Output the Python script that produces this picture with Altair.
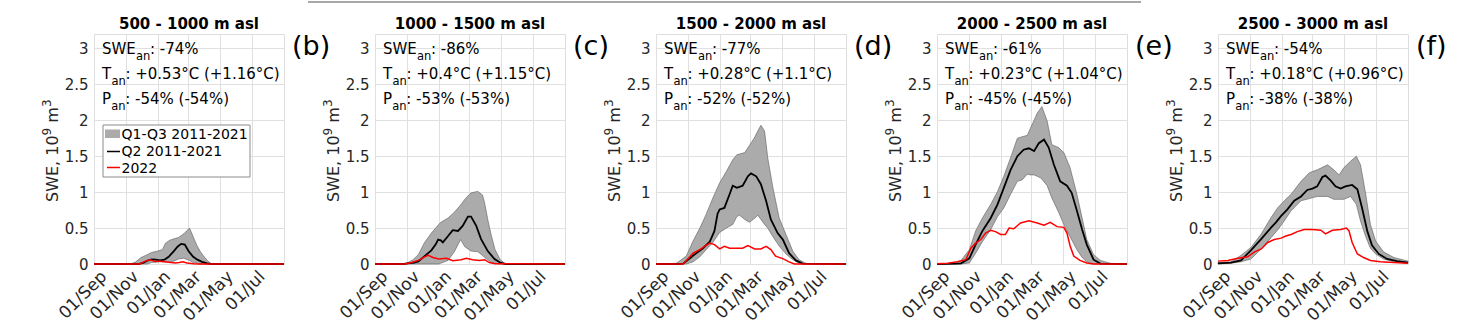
import altair as alt
import pandas as pd

# ---------------- text content ----------------
TITLES = ["500 - 1000 m asl", "1000 - 1500 m asl", "1500 - 2000 m asl",
          "2000 - 2500 m asl", "2500 - 3000 m asl"]
LETTERS = ["(b)", "(c)", "(d)", "(e)", "(f)"]
SWE_AN = ["-74%", "-86%", "-77%", "-61%", "-54%"]
T_AN = ["+0.53°C (+1.16°C)", "+0.4°C (+1.15°C)", "+0.28°C (+1.1°C)",
        "+0.23°C (+1.04°C)", "+0.18°C (+0.96°C)"]
P_AN = ["-54% (-54%)", "-53% (-53%)", "-52% (-52%)", "-45% (-45%)", "-38% (-38%)"]
TICK_DAYS = [0, 61, 122, 181, 242, 303]          # days since 01 Sep
TICK_LABELS = ["01/Sep", "01/Nov", "01/Jan", "01/Mar", "01/May", "01/Jul"]
Y_TICKS = [0, 0.5, 1, 1.5, 2, 2.5, 3]
LEGEND_LABELS = ["Q1-Q3 2011-2021", "Q2 2011-2021", "2022"]
Y_TITLE_PARTS = ["SWE, 10", "9", "m", "3"]      # normal, superscript, normal, superscript

# ---------------- data (SWE, 10^9 m^3; x = days since 01 Sep) ----------------
# Panel 1: 500-1000 m
P1_BAND_DAY = [0, 70, 80, 90, 102, 110, 122, 131, 137, 145, 153, 162, 172, 183, 190, 197, 204, 210, 217, 223, 230, 364]
P1_Q3 = [0, 0, 0.03, 0.09, 0.13, 0.16, 0.18, 0.2, 0.29, 0.33, 0.35, 0.37, 0.42, 0.5, 0.38, 0.26, 0.17, 0.11, 0.05, 0.01, 0, 0]
P1_Q1 = [0, 0, 0, 0, 0, 0.02, 0.03, 0.03, 0.03, 0.03, 0.04, 0.07, 0.08, 0.05, 0.02, 0.01, 0, 0, 0, 0, 0, 0]
P1_Q2_DAY = [0, 85, 95, 102, 110, 118, 127, 135, 143, 153, 160, 167, 174, 181, 190, 198, 207, 217, 225, 364]
P1_Q2 = [0, 0, 0.02, 0.045, 0.065, 0.06, 0.05, 0.06, 0.1, 0.18, 0.24, 0.28, 0.27, 0.18, 0.1, 0.06, 0.03, 0.01, 0, 0]
P1_Y22_DAY = [0, 88, 95, 102, 108, 118, 125, 131, 143, 156, 163, 170, 178, 191, 200, 364]
P1_Y22 = [0, 0, 0.03, 0.05, 0.06, 0.03, 0.04, 0.035, 0.025, 0.015, 0.02, 0.03, 0.015, 0.005, 0, 0]

# Panel 2: 1000-1500 m
P2_BAND_DAY = [0, 55, 63, 73, 83, 95, 108, 122, 126, 140, 152, 164, 172, 184, 197, 206, 210, 216, 222, 230, 240, 250, 364]
P2_Q3 = [0, 0, 0.02, 0.06, 0.13, 0.3, 0.43, 0.55, 0.58, 0.64, 0.72, 0.82, 0.9, 0.99, 1.01, 0.96, 0.85, 0.62, 0.42, 0.2, 0.06, 0, 0]
P2_Q1 = [0, 0, 0, 0, 0, 0, 0, 0, 0.01, 0.05, 0.17, 0.34, 0.24, 0.18, 0.17, 0.12, 0.09, 0.06, 0.03, 0.01, 0, 0, 0]
P2_Q2_DAY = [0, 55, 63, 75, 83, 95, 108, 116, 121, 126, 130, 140, 149, 159, 168, 178, 184, 194, 203, 216, 229, 241, 250, 364]
P2_Q2 = [0, 0, 0.01, 0.02, 0.035, 0.11, 0.19, 0.27, 0.34, 0.33, 0.3, 0.39, 0.47, 0.46, 0.53, 0.66, 0.66, 0.53, 0.35, 0.18, 0.07, 0.015, 0, 0]
P2_Y22_DAY = [0, 57, 70, 83, 95, 102, 111, 122, 137, 149, 165, 175, 187, 200, 210, 219, 230, 364]
P2_Y22 = [0, 0, 0.02, 0.05, 0.1, 0.12, 0.09, 0.07, 0.08, 0.045, 0.06, 0.08, 0.06, 0.05, 0.06, 0.02, 0.005, 0]

# Panel 3: 1500-2000 m
P3_BAND_DAY = [0, 39, 58, 71, 84, 96, 109, 122, 135, 147, 155, 160, 170, 179, 188, 195, 201, 208, 214, 224, 236, 249, 262, 274, 287, 300, 364]
P3_Q3 = [0, 0.01, 0.11, 0.32, 0.5, 0.69, 0.92, 1.13, 1.29, 1.45, 1.52, 1.53, 1.55, 1.65, 1.75, 1.85, 1.93, 1.85, 1.48, 1.06, 0.64, 0.41, 0.18, 0.06, 0.01, 0, 0]
P3_Q1 = [0, 0, 0, 0.03, 0.1, 0.2, 0.3, 0.44, 0.5, 0.55, 0.66, 0.68, 0.62, 0.58, 0.63, 0.68, 0.62, 0.55, 0.5, 0.38, 0.25, 0.14, 0.06, 0.01, 0, 0, 0]
P3_Q2_DAY = [0, 45, 52, 65, 77, 90, 103, 112, 118, 122, 131, 141, 147, 155, 166, 176, 182, 192, 201, 211, 220, 233, 243, 255, 268, 281, 364]
P3_Q2 = [0, 0, 0.005, 0.08, 0.15, 0.22, 0.31, 0.46, 0.7, 0.76, 0.78, 0.97, 1.09, 1.06, 1.09, 1.22, 1.26, 1.22, 1.11, 0.875, 0.62, 0.43, 0.34, 0.15, 0.05, 0.005, 0]
P3_Y22_DAY = [0, 52, 62, 71, 84, 93, 103, 112, 122, 131, 141, 154, 166, 176, 189, 201, 211, 220, 229, 243, 255, 265, 364]
P3_Y22 = [0, 0, 0.08, 0.15, 0.2, 0.245, 0.29, 0.27, 0.21, 0.245, 0.22, 0.22, 0.22, 0.255, 0.21, 0.21, 0.245, 0.2, 0.11, 0.075, 0.03, 0, 0]

# Panel 4: 2000-2500 m
P4_BAND_DAY = [0, 33, 46, 62, 74, 87, 103, 116, 128, 141, 154, 163, 173, 179, 186, 192, 198, 201, 211, 220, 233, 243, 255, 268, 278, 287, 300, 313, 332, 364]
P4_Q3 = [0, 0.01, 0.05, 0.2, 0.46, 0.64, 0.83, 1.01, 1.22, 1.48, 1.75, 1.77, 1.79, 1.89, 2.0, 2.1, 2.16, 2.19, 1.99, 1.66, 1.62, 1.55, 1.34, 0.97, 0.64, 0.34, 0.13, 0.05, 0.01, 0]
P4_Q1 = [0, 0, 0, 0.015, 0.15, 0.31, 0.48, 0.66, 0.78, 0.97, 1.15, 1.17, 1.25, 1.24, 1.24, 1.22, 1.2, 1.18, 1.09, 0.92, 0.72, 0.55, 0.38, 0.2, 0.09, 0.03, 0, 0, 0, 0]
P4_Q2_DAY = [0, 40, 46, 62, 74, 87, 103, 116, 128, 141, 154, 166, 176, 186, 195, 205, 214, 224, 236, 249, 258, 268, 278, 287, 300, 313, 364]
P4_Q2 = [0, 0.005, 0.01, 0.08, 0.27, 0.46, 0.64, 0.83, 1.06, 1.31, 1.5, 1.59, 1.61, 1.57, 1.68, 1.73, 1.62, 1.38, 1.15, 1.09, 0.99, 0.74, 0.48, 0.27, 0.06, 0.005, 0]
P4_Y22_DAY = [0, 20, 39, 55, 65, 74, 84, 93, 103, 112, 122, 131, 138, 147, 160, 176, 192, 205, 217, 230, 243, 249, 255, 262, 274, 287, 300, 364]
P4_Y22 = [0.005, 0.01, 0.03, 0.06, 0.22, 0.29, 0.34, 0.43, 0.47, 0.45, 0.41, 0.41, 0.5, 0.49, 0.57, 0.6, 0.57, 0.54, 0.58, 0.52, 0.51, 0.43, 0.25, 0.11, 0.05, 0.015, 0, 0]

# Panel 5: 2500-3000 m
P5_BAND_DAY = [0, 25, 44, 63, 83, 102, 114, 127, 140, 159, 175, 190, 210, 222, 232, 241, 254, 265, 273, 283, 292, 302, 317, 337, 364]
P5_Q3 = [0.02, 0.03, 0.12, 0.23, 0.42, 0.65, 0.78, 0.88, 0.97, 1.15, 1.27, 1.31, 1.38, 1.31, 1.24, 1.34, 1.43, 1.5, 1.38, 0.97, 0.55, 0.32, 0.17, 0.09, 0.04]
P5_Q1 = [0, 0.01, 0.03, 0.07, 0.21, 0.37, 0.47, 0.6, 0.74, 0.88, 0.91, 0.94, 0.94, 0.9, 0.9, 0.9, 0.94, 0.83, 0.6, 0.38, 0.22, 0.14, 0.07, 0.03, 0.01]
P5_Q2_DAY = [0, 25, 44, 63, 83, 102, 111, 121, 133, 146, 159, 171, 181, 190, 200, 206, 216, 225, 235, 244, 257, 267, 276, 286, 295, 308, 324, 343, 364]
P5_Q2 = [0.01, 0.02, 0.05, 0.19, 0.35, 0.51, 0.58, 0.67, 0.76, 0.88, 0.94, 1.03, 1.05, 1.08, 1.21, 1.23, 1.16, 1.08, 1.05, 1.08, 1.1, 1.04, 0.78, 0.46, 0.26, 0.14, 0.07, 0.04, 0.02]
P5_Y22_DAY = [0, 19, 38, 57, 70, 83, 95, 108, 121, 130, 140, 152, 165, 181, 197, 206, 219, 235, 246, 251, 257, 267, 279, 292, 311, 337, 364]
P5_Y22 = [0.04, 0.05, 0.08, 0.1, 0.17, 0.21, 0.3, 0.34, 0.36, 0.39, 0.41, 0.45, 0.48, 0.48, 0.47, 0.42, 0.47, 0.48, 0.5, 0.46, 0.3, 0.14, 0.09, 0.05, 0.03, 0.02, 0.01]

BAND_DAYS = [P1_BAND_DAY, P2_BAND_DAY, P3_BAND_DAY, P4_BAND_DAY, P5_BAND_DAY]
Q1S = [P1_Q1, P2_Q1, P3_Q1, P4_Q1, P5_Q1]
Q3S = [P1_Q3, P2_Q3, P3_Q3, P4_Q3, P5_Q3]
Q2_DAYS = [P1_Q2_DAY, P2_Q2_DAY, P3_Q2_DAY, P4_Q2_DAY, P5_Q2_DAY]
Q2S = [P1_Q2, P2_Q2, P3_Q2, P4_Q2, P5_Q2]
Y22_DAYS = [P1_Y22_DAY, P2_Y22_DAY, P3_Y22_DAY, P4_Y22_DAY, P5_Y22_DAY]
Y22S = [P1_Y22, P2_Y22, P3_Y22, P4_Y22, P5_Y22]

# ---------------- styling ----------------
W, H = 190, 230
FONT = "DejaVu Sans"
AXC = "#262626"
BAND_FILL = "#ababab"
BAND_EDGE = "#5c5c5c"

label_expr = "".join(f"datum.value == {d} ? '{l}' : " for d, l in zip(TICK_DAYS, TICK_LABELS)) + "''"

x_axis = alt.Axis(values=TICK_DAYS, labelExpr=label_expr, labelAngle=315, labelAlign="right",
                  labelBaseline="top", labelFontSize=17, labelColor=AXC, labelPadding=4,
                  labelOffset=4, labelOverlap=False, labelBound=False, ticks=False, domain=False,
                  title=None, grid=True, gridColor="#e0e0e0", labelFont=FONT)
y_axis = alt.Axis(values=Y_TICKS, format="~g", labelFontSize=15, labelColor=AXC, labelPadding=6,
                  labelOverlap=False, ticks=False, domain=False, grid=True, gridColor="#e0e0e0",
                  title=None, labelFont=FONT)
x_scale = alt.Scale(domain=[0, 364], nice=False, zero=False)
y_scale = alt.Scale(domain=[0, 3.2], nice=False)


def txt(s, x, y, size=15, weight="normal", color="black", align="left", angle=0):
    return alt.Chart(pd.DataFrame({"t": [s]})).mark_text(
        align=align, baseline="alphabetic", fontSize=size, font=FONT,
        fontWeight=weight, color=color, angle=angle
    ).encode(x=alt.value(x), y=alt.value(y), text="t:N")


def annotation(main, rest, x0, y0, main_w):
    sub_x = x0 + main_w
    return [txt(main, x0, y0), txt("an", sub_x, y0 + 6.5, size=11.5), txt(": " + rest, sub_x + 14, y0)]


def y_title():
    # rotated (bottom-to-top) title with real superscripts
    base_x, sup_x = -36, -43
    y0 = 168
    parts = []
    parts.append(txt(Y_TITLE_PARTS[0], base_x, y0, size=16, color=AXC, angle=270))
    y1 = y0 - 66.6
    parts.append(txt(Y_TITLE_PARTS[1], sup_x, y1, size=12, color=AXC, angle=270))
    y2 = y1 - 7.6 - 5.1          # after superscript and a space
    parts.append(txt(Y_TITLE_PARTS[2], base_x, y2, size=16, color=AXC, angle=270))
    y3 = y2 - 15.6
    parts.append(txt(Y_TITLE_PARTS[3], sup_x, y3, size=12, color=AXC, angle=270))
    return parts


def panel(i):
    band_df = pd.DataFrame({"day": BAND_DAYS[i], "lo": Q1S[i], "hi": Q3S[i]})
    q2_df = pd.DataFrame({"day": Q2_DAYS[i], "swe": Q2S[i]})
    y22_df = pd.DataFrame({"day": Y22_DAYS[i], "swe": Y22S[i]})

    band = alt.Chart(band_df).mark_area(fill=BAND_FILL, stroke=BAND_EDGE, strokeWidth=0.6).encode(
        x=alt.X("day:Q", scale=x_scale, axis=x_axis),
        y=alt.Y("lo:Q", scale=y_scale, axis=y_axis),
        y2="hi:Q",
    )
    q2 = alt.Chart(q2_df).mark_line(color="black", strokeWidth=1.8).encode(
        x=alt.X("day:Q", scale=x_scale, axis=x_axis),
        y=alt.Y("swe:Q", scale=y_scale, axis=y_axis),
    )
    y22 = alt.Chart(y22_df).mark_line(color="#ff0000", strokeWidth=1.5).encode(
        x=alt.X("day:Q", scale=x_scale, axis=x_axis),
        y=alt.Y("swe:Q", scale=y_scale, axis=y_axis),
    )
    layers = [band, q2, y22]
    layers += annotation("SWE", SWE_AN[i], 8, 19.5, 34)
    layers += annotation("T", T_AN[i], 8, 44.5, 9.4)
    layers += annotation("P", P_AN[i], 8, 69.5, 9.2)
    layers.append(txt(LETTERS[i], 198, 20.5, size=27))
    # panel title (bold, centred above the plot)
    layers.append(txt(TITLES[i], W / 2, -5, size=15, weight="bold", align="center"))
    layers += y_title()

    if i == 0:
        # legend box
        layers.append(alt.Chart(pd.DataFrame({"a": [0]})).mark_rect(
            fill="white", stroke="#8c8c8c", strokeWidth=1).encode(
            x=alt.value(9), x2=alt.value(156), y=alt.value(91), y2=alt.value(143)))
        layers.append(alt.Chart(pd.DataFrame({"a": [0]})).mark_rect(fill=BAND_FILL).encode(
            x=alt.value(11), x2=alt.value(26), y=alt.value(95.5), y2=alt.value(104)))
        layers.append(alt.Chart(pd.DataFrame({"a": [0]})).mark_rule(color="black", strokeWidth=1.5).encode(
            x=alt.value(13), x2=alt.value(26), y=alt.value(117.5)))
        layers.append(alt.Chart(pd.DataFrame({"a": [0]})).mark_rule(color="#ff0000", strokeWidth=1.5).encode(
            x=alt.value(13), x2=alt.value(26), y=alt.value(133.5)))
        layers.append(txt(LEGEND_LABELS[0], 27.5, 104.5, size=14))
        layers.append(txt(LEGEND_LABELS[1], 27.5, 122, size=14))
        layers.append(txt(LEGEND_LABELS[2], 27.5, 138.5, size=14))
    if i == 1:
        # thin grey rule across the top of the figure
        layers.append(alt.Chart(pd.DataFrame({"a": [0]})).mark_rule(color="#a8a8a8", strokeWidth=2).encode(
            x=alt.value(-67), x2=alt.value(766), y=alt.value(-32)))

    return alt.layer(*layers).properties(width=W, height=H)


chart = alt.hconcat(*[panel(i) for i in range(5)], spacing=91, bounds="flush").properties(
    padding={"left": 40, "top": 0, "right": 5, "bottom": 5}
).configure_view(stroke="#5e5e5e", strokeWidth=1).configure(font=FONT, background="white")

chart.save("out.html", embed_options={"renderer": "svg", "actions": False})
